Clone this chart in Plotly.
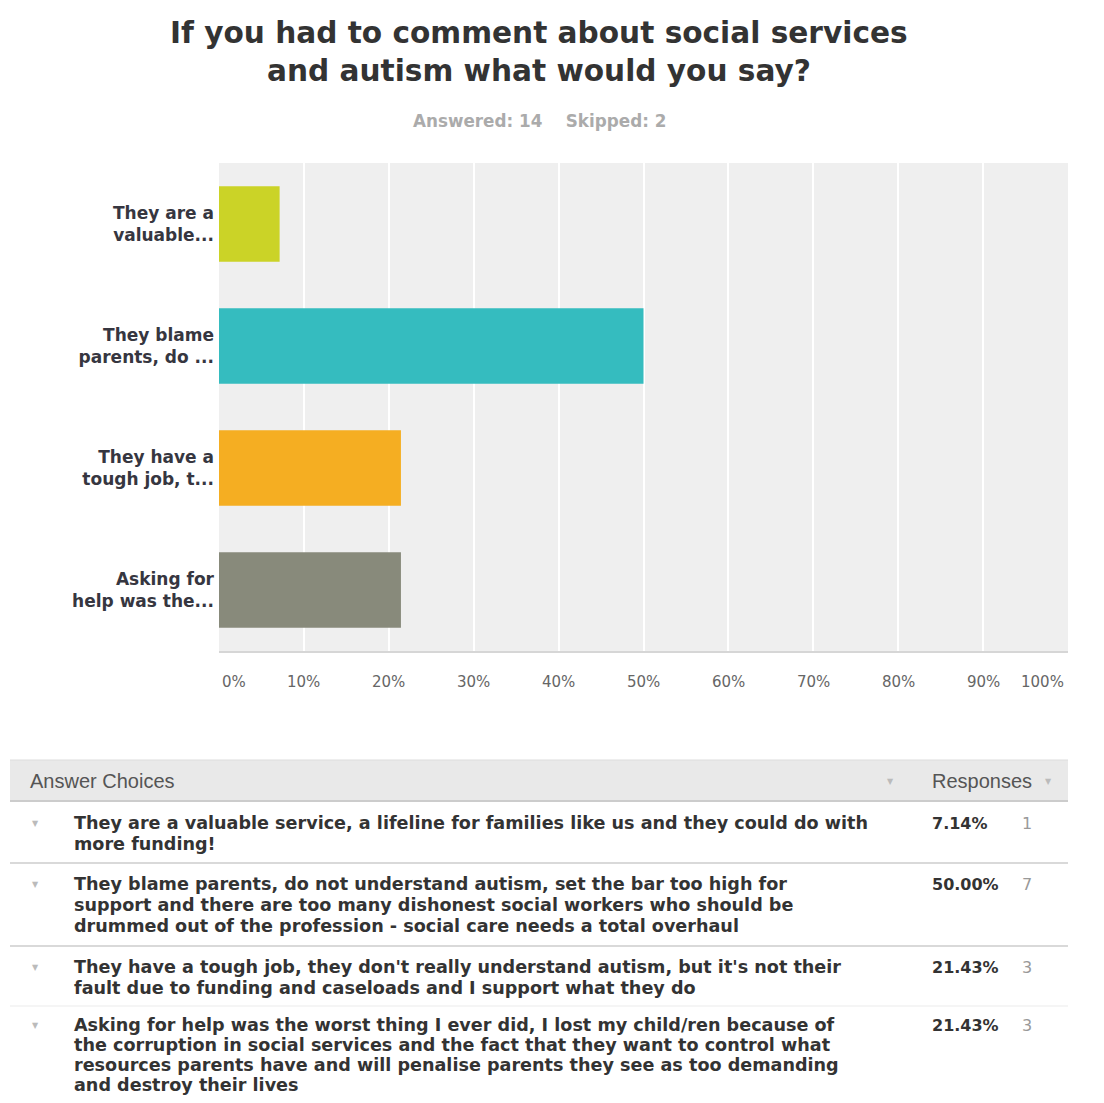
import plotly.graph_objects as go

# ---------------- data ----------------
short_labels = ["They are a<br>valuable...", "They blame<br>parents, do ...",
                "They have a<br>tough job, t...", "Asking for<br>help was the..."]
percent_values = [7.14, 50.00, 21.43, 21.43]
response_counts = [1, 7, 3, 3]
bar_colors = ["#cbd327", "#35bcbf", "#f5ae22", "#888a7b"]
tick_values = [0, 10, 20, 30, 40, 50, 60, 70, 80, 90, 100]
tick_labels = ["0%", "10%", "20%", "30%", "40%", "50%", "60%", "70%", "80%", "90%", "100%"]
answer_lines = [
    ["They are a valuable service, a lifeline for families like us and they could do with",
     "more funding!"],
    ["They blame parents, do not understand autism, set the bar too high for",
     "support and there are too many dishonest social workers who should be",
     "drummed out of the profession - social care needs a total overhaul"],
    ["They have a tough job, they don't really understand autism, but it's not their",
     "fault due to funding and caseloads and I support what they do"],
    ["Asking for help was the worst thing I ever did, I lost my child/ren because of",
     "the corruption in social services and the fact that they want to control what",
     "resources parents have and will penalise parents they see as too demanding",
     "and destroy their lives"],
]
title_lines = ["If you had to comment about social services", "and autism what would you say?"]
subtitle = "Answered: 14\u00a0\u00a0\u00a0\u00a0Skipped: 2"

# page has an 8px body margin; figure sized to fit the window inside it
OFF = 8
W, H = 1104 - 2 * OFF, 1103 - 2 * OFF


def px(x):
    return (x - OFF) / W


def py(y):
    return 1 - (y - OFF) / H


fig = go.Figure()
fig.add_trace(go.Bar(
    x=percent_values, y=short_labels, orientation="h",
    marker=dict(color=bar_colors, line=dict(width=0)),
    width=0.62, hoverinfo="skip",
))

annotations = []
# title
for i, t in enumerate(title_lines):
    annotations.append(dict(text=t, x=px(539), y=py([33, 71][i]), xref="paper", yref="paper",
                            xanchor="center", yanchor="middle", showarrow=False,
                            font=dict(family="DejaVu Sans", size=29.6, color="#333333", weight="bold")))
annotations.append(dict(text=subtitle, x=px(539), y=py(121), xref="paper", yref="paper",
                        xanchor="center", yanchor="middle", showarrow=False,
                        font=dict(family="DejaVu Sans", size=16.8, color="#ababab", weight="bold")))

# x tick labels
for i, (v, lab) in enumerate(zip(tick_values, tick_labels)):
    shift = 0
    if i == 0:
        shift = 15
    elif i == len(tick_values) - 1:
        shift = -26
    annotations.append(dict(text=lab, x=v, y=py(682), xref="x", yref="paper",
                            xanchor="center", yanchor="middle", showarrow=False, xshift=shift,
                            font=dict(family="DejaVu Sans", size=15, color="#666666")))

shapes = []
# table header
shapes.append(dict(type="rect", xref="paper", yref="paper", x0=px(10), x1=px(1068),
                   y0=py(801), y1=py(760), fillcolor="#e9e9e9", line=dict(width=0), layer="below"))
shapes.append(dict(type="line", xref="paper", yref="paper", x0=px(10), x1=px(1068),
                   y0=py(760), y1=py(760), line=dict(color="#dddddd", width=1)))
shapes.append(dict(type="line", xref="paper", yref="paper", x0=px(10), x1=px(1068),
                   y0=py(801), y1=py(801), line=dict(color="#cccccc", width=2)))
annotations.append(dict(text="Answer Choices", x=px(28), y=py(781), xref="paper", yref="paper",
                        xanchor="left", yanchor="middle", showarrow=False,
                        font=dict(family="Liberation Sans", size=20, color="#555555")))
annotations.append(dict(text="Responses", x=px(930), y=py(781), xref="paper", yref="paper",
                        xanchor="left", yanchor="middle", showarrow=False,
                        font=dict(family="Liberation Sans", size=20, color="#555555")))
for tx in (890, 1048):
    annotations.append(dict(text="\u25bc", x=px(tx), y=py(781), xref="paper", yref="paper",
                            xanchor="center", yanchor="middle", showarrow=False,
                            font=dict(family="DejaVu Sans", size=8, color="#bbbbbb")))

row_first_y = [823, 884, 967, 1025]
row_line_step = [21, 21, 21, 20]
separators = [863, 946, 1006]
for r, lines in enumerate(answer_lines):
    y0 = row_first_y[r]
    step = row_line_step[r]
    annotations.append(dict(text="\u25bc", x=px(35), y=py(y0), xref="paper", yref="paper",
                            xanchor="center", yanchor="middle", showarrow=False,
                            font=dict(family="DejaVu Sans", size=8, color="#bbbbbb")))
    for k, ln in enumerate(lines):
        annotations.append(dict(text=ln, x=px(72), y=py(y0 + k * step), xref="paper", yref="paper",
                                xanchor="left", yanchor="middle", showarrow=False,
                                font=dict(family="DejaVu Sans", size=17.6, color="#333333", weight="bold")))
    annotations.append(dict(text=f"{percent_values[r]:.2f}%", x=px(930), y=py(y0), xref="paper", yref="paper",
                            xanchor="left", yanchor="middle", showarrow=False,
                            font=dict(family="DejaVu Sans", size=16, color="#333333", weight="bold")))
    annotations.append(dict(text=str(response_counts[r]), x=px(1027), y=py(y0), xref="paper", yref="paper",
                            xanchor="center", yanchor="middle", showarrow=False,
                            font=dict(family="DejaVu Sans", size=16, color="#999999")))
for i, sy in enumerate(separators):
    shapes.append(dict(type="line", xref="paper", yref="paper", x0=px(10), x1=px(1068),
                       y0=py(sy), y1=py(sy),
                       line=dict(color="#cccccc" if i < 2 else "#f2f2f2", width=1.5)))

fig.update_layout(
    width=W, height=H, autosize=False,
    margin=dict(l=0, r=0, t=0, b=0),
    paper_bgcolor="white", plot_bgcolor="#efefef",
    showlegend=False,
    bargap=0.38,
    xaxis=dict(domain=[px(219), px(1068)], range=[0, 100], tickvals=tick_values,
               showticklabels=False, showgrid=True, gridcolor="#ffffff", gridwidth=1.5,
               zeroline=False, showline=True, linecolor="#d6d6d6", linewidth=2, fixedrange=True),
    yaxis=dict(domain=[py(651), py(163)], autorange="reversed", showgrid=False, zeroline=False,
               ticks="", ticklabelstandoff=4,
               tickfont=dict(family="DejaVu Sans", size=17, color="#363640", weight="bold"),
               fixedrange=True),
    annotations=annotations,
    shapes=shapes,
)

fig.write_html("out.html", config={"displayModeBar": False})
